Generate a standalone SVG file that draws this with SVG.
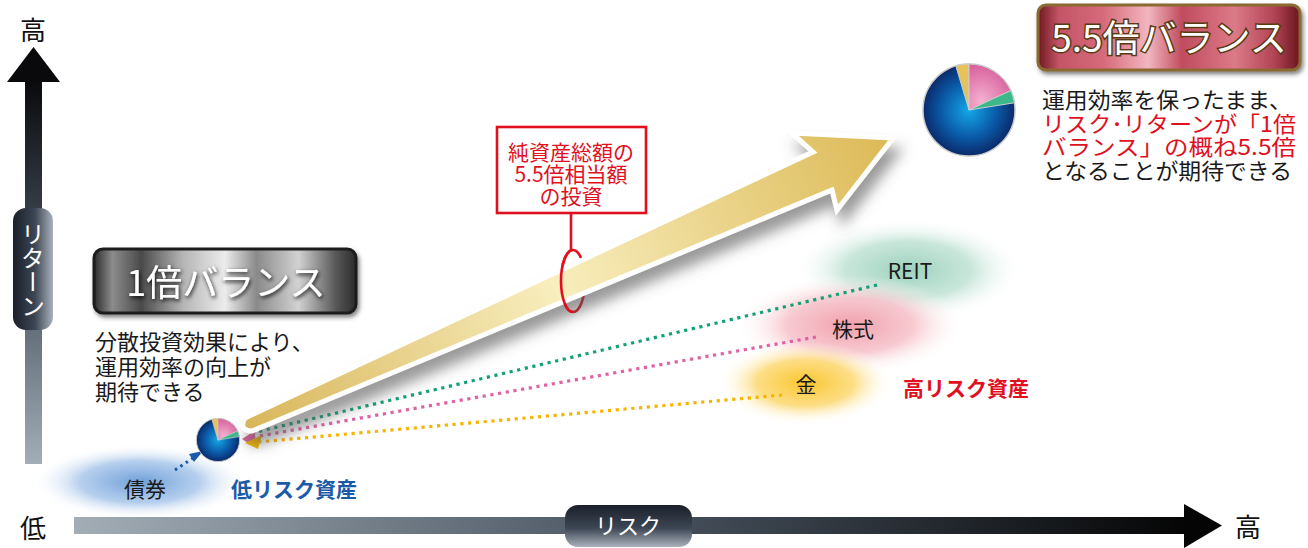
<svg xmlns="http://www.w3.org/2000/svg" width="1308" height="548" viewBox="0 0 1308 548">
<defs>
<style>
.jp{font-family:"Noto Sans CJK JP","Liberation Sans",sans-serif;}
.ax{font-size:26px;fill:#111;}
.body{font-size:22px;fill:#1a1a1a;}
.red{fill:#e0101e;}
.lbl{font-size:21px;fill:#1a1a1a;}
.dot{fill:none;stroke-width:3.2;stroke-dasharray:3.2 4.6;}
</style>
<linearGradient id="vax" x1="0" y1="0" x2="0" y2="1"><stop offset="0" stop-color="#0a0a0c"/><stop offset="0.5" stop-color="#4a5562"/><stop offset="1" stop-color="#a3adb6"/></linearGradient>
<linearGradient id="hax" x1="0" y1="0" x2="1" y2="0"><stop offset="0" stop-color="#a3adb6"/><stop offset="0.5" stop-color="#4a5562"/><stop offset="1" stop-color="#050505"/></linearGradient>
<linearGradient id="pillV" x1="0" y1="0" x2="1" y2="0"><stop offset="0" stop-color="#1a202a"/><stop offset="0.55" stop-color="#3c4654"/><stop offset="1" stop-color="#a9b2bb"/></linearGradient>
<linearGradient id="pillH" x1="0" y1="0" x2="0" y2="1"><stop offset="0" stop-color="#1a202a"/><stop offset="0.55" stop-color="#3c4654"/><stop offset="1" stop-color="#a9b2bb"/></linearGradient>
<linearGradient id="metal" x1="0" y1="0" x2="1" y2="0"><stop offset="0" stop-color="#2a2a2a"/><stop offset="0.07" stop-color="#8c8c8c"/><stop offset="0.18" stop-color="#4a4a4a"/><stop offset="0.34" stop-color="#b5b5b5"/><stop offset="0.5" stop-color="#ececec"/><stop offset="0.62" stop-color="#8a8a8a"/><stop offset="0.78" stop-color="#d2d2d2"/><stop offset="0.92" stop-color="#5a5a5a"/><stop offset="1" stop-color="#2c2c2c"/></linearGradient>
<linearGradient id="metalR" x1="0" y1="0" x2="1" y2="0"><stop offset="0" stop-color="#6e1820"/><stop offset="0.08" stop-color="#c45466"/><stop offset="0.25" stop-color="#d66a7a"/><stop offset="0.42" stop-color="#f2b6c0"/><stop offset="0.55" stop-color="#c04c5e"/><stop offset="0.75" stop-color="#dc7a88"/><stop offset="0.9" stop-color="#b24456"/><stop offset="1" stop-color="#6a161e"/></linearGradient>
<linearGradient id="gold" gradientUnits="userSpaceOnUse" x1="245" y1="425" x2="893" y2="138"><stop offset="0" stop-color="#d8b65a"/><stop offset="0.48" stop-color="#f8eebe"/><stop offset="1" stop-color="#dcb955"/></linearGradient>
<radialGradient id="pieB" cx="0.5" cy="0.5" r="0.5"><stop offset="0" stop-color="#14a8e8"/><stop offset="0.6" stop-color="#0a5aa8"/><stop offset="1" stop-color="#0a2a6a"/></radialGradient>
<radialGradient id="pieP" cx="0.3" cy="0.8" r="0.8"><stop offset="0" stop-color="#f4b0d0"/><stop offset="1" stop-color="#d8609c"/></radialGradient>
<radialGradient id="bG" cx="0.5" cy="0.5" r="0.5"><stop offset="0" stop-color="#9dd1bd"/><stop offset="0.55" stop-color="#bfe2d4" stop-opacity="0.85"/><stop offset="1" stop-color="#ffffff" stop-opacity="0"/></radialGradient>
<radialGradient id="bP" cx="0.5" cy="0.5" r="0.5"><stop offset="0" stop-color="#f0a0ac"/><stop offset="0.55" stop-color="#f6c0c8" stop-opacity="0.85"/><stop offset="1" stop-color="#ffffff" stop-opacity="0"/></radialGradient>
<radialGradient id="bY" cx="0.5" cy="0.5" r="0.5"><stop offset="0" stop-color="#fbc52c"/><stop offset="0.55" stop-color="#fcd870" stop-opacity="0.85"/><stop offset="1" stop-color="#ffffff" stop-opacity="0"/></radialGradient>
<radialGradient id="bB" cx="0.5" cy="0.5" r="0.5"><stop offset="0" stop-color="#6f9fd8"/><stop offset="0.55" stop-color="#a8c6ea" stop-opacity="0.85"/><stop offset="1" stop-color="#ffffff" stop-opacity="0"/></radialGradient>
<filter id="shadow" x="-20%" y="-20%" width="150%" height="160%"><feDropShadow dx="6" dy="12" stdDeviation="7" flood-color="#555" flood-opacity="0.6"/></filter>
<filter id="glow" x="-10%" y="-30%" width="120%" height="160%"><feDropShadow dx="1" dy="2" stdDeviation="2" flood-color="#000" flood-opacity="0.9"/></filter>
<filter id="boxsh" x="-10%" y="-20%" width="120%" height="150%"><feDropShadow dx="2" dy="3" stdDeviation="2" flood-color="#333" flood-opacity="0.6"/></filter>
</defs>

<!-- blobs -->
<g id="blobs">
<ellipse cx="908" cy="270" rx="115" ry="52" fill="url(#bG)"/>
<ellipse cx="850" cy="325" rx="115" ry="50" fill="url(#bP)"/>
<ellipse cx="805" cy="383" rx="88" ry="42" fill="url(#bY)"/>
<ellipse cx="140" cy="482" rx="108" ry="38" fill="url(#bB)"/>
</g>

<!-- axes -->
<g id="axis-return">
<rect x="25" y="80" width="17" height="384" fill="url(#vax)"/>
<path d="M7,82 L33.5,47 L60,82 Z" fill="#0a0a0c"/>
<rect x="13" y="208" width="40" height="122" rx="13" fill="url(#pillV)"/>
<text class="jp" x="33" y="222" font-size="24" fill="#fff" style="writing-mode:vertical-rl">リターン</text>
<text class="jp ax" x="33" y="40" text-anchor="middle">高</text>
<text class="jp ax" x="33" y="538" text-anchor="middle">低</text>
</g>
<g id="axis-risk">
<rect x="74" y="517" width="1112" height="17" fill="url(#hax)"/>
<path d="M1184,504 L1222,525.5 L1184,548 Z" fill="#050505"/>
<rect x="565" y="505" width="127" height="42" rx="13" fill="url(#pillH)"/>
<text class="jp" x="628" y="534" font-size="22" fill="#fff" text-anchor="middle">リスク</text>
<text class="jp ax" x="1248" y="537" text-anchor="middle">高</text>
</g>

<!-- connectors -->
<g id="connectors">
<path class="dot" stroke="#12a27a" d="M877,285 L252,433"/>
<path class="dot" stroke="#e062a6" d="M816,337 L254,437"/>
<path class="dot" stroke="#f7b500" d="M782,395 L258,442"/>
<path d="M242,439 L256,430 L253,446 Z" fill="#d8609c"/>
<path d="M245,443 L262,435 L258,449 Z" fill="#f7b500"/>
<path d="M175,470 L193,458" fill="none" stroke="#1a5aa8" stroke-width="3" stroke-dasharray="2.5 4"/>
<path d="M203,451 L189,454 L194,462 Z" fill="#1a5aa8"/>
<ellipse cx="573" cy="281" rx="12" ry="31" fill="none" stroke="#e0101e" stroke-width="2.6"/>
</g>

<!-- big arrow -->
<g id="arrow">
<path d="M245,418 L813,152 L792,133 L893,138 L837,210 L832,190 L252,431 Q238,430 245,418 Z" fill="url(#gold)" stroke="#fff" stroke-width="5" stroke-linejoin="miter" filter="url(#shadow)"/>
</g>

<!-- callout -->
<g id="callout">
<path d="M573,250 A12,31 0 0 0 573,312" fill="none" stroke="#e0101e" stroke-width="2.6"/>
<line x1="571" y1="213" x2="571" y2="251" stroke="#e0101e" stroke-width="2.6"/>
<rect x="497" y="127" width="149" height="86" fill="#fff" stroke="#e0101e" stroke-width="2.6"/>
<text class="jp red" font-size="21" text-anchor="middle"><tspan x="571" y="160">純資産総額の</tspan><tspan x="571" y="182">5.5倍相当額</tspan><tspan x="571" y="204">の投資</tspan></text>
</g>

<!-- pies -->
<g id="pie-small" transform="translate(218,440) scale(0.47)">
<circle r="46" fill="url(#pieB)" stroke="#c8c8c8" stroke-width="2"/>
<path d="M0,0 L-13.2,-44.1 A46,46 0 0 1 0,-46 Z" fill="#e6c25a" stroke="#ccc" stroke-width="1.5"/>
<path d="M0,0 L0,-46 A46,46 0 0 1 41.7,-19.4 Z" fill="url(#pieP)" stroke="#ccc" stroke-width="1.5"/>
<path d="M0,0 L41.7,-19.4 A46,46 0 0 1 45.4,-7.2 Z" fill="#3cb88a" stroke="#ccc" stroke-width="1.5"/>
</g>
<g id="pie-large" transform="translate(969,110)">
<circle r="46" fill="url(#pieB)" stroke="#c8c8c8" stroke-width="1.5"/>
<path d="M0,0 L-13.2,-44.1 A46,46 0 0 1 0,-46 Z" fill="#e6c25a" stroke="#ccc" stroke-width="1"/>
<path d="M0,0 L0,-46 A46,46 0 0 1 41.7,-19.4 Z" fill="url(#pieP)" stroke="#ccc" stroke-width="1"/>
<path d="M0,0 L41.7,-19.4 A46,46 0 0 1 45.4,-7.2 Z" fill="#3cb88a" stroke="#ccc" stroke-width="1"/>
</g>

<!-- labels -->
<g id="lbl-reit"><text class="jp lbl" x="910" y="279" text-anchor="middle">REIT</text></g>
<g id="lbl-stock"><text class="jp lbl" x="853" y="337" text-anchor="middle">株式</text></g>
<g id="lbl-gold"><text class="jp lbl" x="806" y="392" text-anchor="middle">金</text></g>
<g id="lbl-bond"><text class="jp lbl" x="145" y="497" text-anchor="middle">債券</text></g>
<g id="lbl-high"><text class="jp" x="903" y="396" font-size="21" font-weight="bold" fill="#e0101e">高リスク資産</text></g>
<g id="lbl-low"><text class="jp" x="231" y="497" font-size="21" font-weight="bold" fill="#1a5aa8">低リスク資産</text></g>

<!-- 1x balance -->
<g id="balance1">
<rect x="94" y="249" width="262" height="64" rx="9" fill="url(#metal)" stroke="#1e1e1e" stroke-width="3" filter="url(#boxsh)"/>
<text class="jp" x="226" y="296" font-size="36" fill="#fff" text-anchor="middle" filter="url(#glow)">1倍バランス</text>
<text class="jp body" x="95" y="350">分散投資効果により、</text>
<text class="jp body" x="95" y="375">運用効率の向上が</text>
<text class="jp body" x="95" y="400">期待できる</text>
</g>

<!-- 5.5x balance -->
<g id="balance55">
<rect x="1038" y="5" width="262" height="65" rx="8" fill="url(#metalR)" stroke="#8a6a30" stroke-width="3" filter="url(#boxsh)"/>
<text class="jp" x="1169" y="52" font-size="37" fill="#fff" stroke="#5a3a14" stroke-width="3" paint-order="stroke" text-anchor="middle">5.5倍バランス</text>
<text class="jp" font-size="22" x="1042" y="108" fill="#1a1a1a" textLength="250" lengthAdjust="spacingAndGlyphs">運用効率を保ったまま、</text>
<text class="jp" font-size="22" x="1042" y="131.5" fill="#e0101e" textLength="254" lengthAdjust="spacingAndGlyphs">リスク･リターンが「1倍</text>
<text class="jp" font-size="22" x="1042" y="155" fill="#e0101e" textLength="254" lengthAdjust="spacingAndGlyphs">バランス」の概ね5.5倍</text>
<text class="jp" font-size="22" x="1042" y="178.5" fill="#1a1a1a" textLength="250" lengthAdjust="spacingAndGlyphs">となることが期待できる</text>
</g>
</svg>
